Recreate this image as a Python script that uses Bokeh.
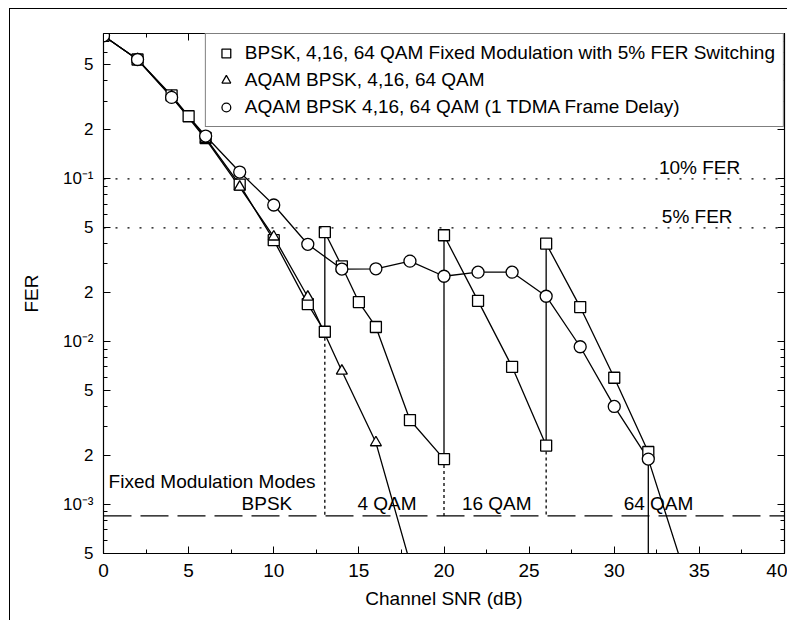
from bokeh.plotting import figure
from bokeh.models import (FixedTicker, Legend, LegendItem, LinearAxis, LogAxis,
                          Range1d, Span, CustomJSTickFormatter)
from bokeh.embed import file_html
from bokeh.resources import INLINE
from bokeh.core.properties import value

# ---------------- data ----------------
snr_fixed = [0, 2, 4, 5, 6, 8, 10, 12, 13, 13, 14, 15, 16, 18, 20, 20, 22, 24, 26, 26, 28, 30, 32, 32]
fer_fixed = [0.755, 0.54, 0.325, 0.242, 0.178, 0.092, 0.042, 0.017, 0.0115, 0.047, 0.029, 0.0175,
             0.0123, 0.0033, 0.0019, 0.045, 0.0178, 0.007, 0.0023, 0.040, 0.0163, 0.006, 0.0021, 0.0001]

snr_aqam = [0, 2, 4, 6, 8, 10, 12, 14, 16, 18]
fer_aqam = [0.755, 0.54, 0.32, 0.175, 0.089, 0.044, 0.0188, 0.0066, 0.0024, 0.00044]

snr_delay = [0, 2, 4, 6, 8, 10, 12, 14, 16, 18, 20, 22, 24, 26, 28, 30, 32, 34]
fer_delay = [0.755, 0.54, 0.316, 0.183, 0.11, 0.069, 0.0396, 0.0279, 0.028, 0.0312, 0.0252,
             0.0267, 0.0267, 0.019, 0.0093, 0.0040, 0.0019, 0.00042]

switch_snr = [13, 20, 26]
switch_fer = [0.0115, 0.0019, 0.0023]
mode_fer = 8.5e-4
fer_targets = [0.1, 0.05]
fer_target_text = ["10% FER", "5% FER"]
fer_target_x = [37.4, 36.95]

mode_names = ["BPSK", "4 QAM", "16 QAM", "64 QAM"]
mode_x = [9.6, 16.65, 23.1, 32.6]
modes_title = "Fixed Modulation Modes"

legend_labels = ["BPSK, 4,16, 64 QAM Fixed Modulation with 5% FER Switching",
                 "AQAM BPSK, 4,16, 64 QAM",
                 "AQAM BPSK 4,16, 64 QAM (1 TDMA Frame Delay)"]

x_ticks = [0, 5, 10, 15, 20, 25, 30, 35, 40]
y_labeled = [5e-4, 1e-3, 2e-3, 5e-3, 1e-2, 2e-2, 5e-2, 1e-1, 2e-1, 5e-1]
y_tick_text = ["5", "10\u207b\u00b3", "2", "5", "10\u207b\u00b2", "2", "5", "10\u207b\u00b9", "2", "5"]
y_minor = [k * 10.0 ** e for e in (-4, -3, -2, -1) for k in range(2, 10) if 5e-4 <= k * 10.0 ** e <= 0.78]

FONT = "Liberation Sans"
FS = "19px"

p = figure(width=778, height=612, y_axis_type="log", output_backend="svg", toolbar_location=None,
           x_range=Range1d(0, 40), y_range=Range1d(5e-4, 0.78),
           min_border_left=93, min_border_right=3, min_border_top=24, min_border_bottom=68)
p.styles = {"margin-left": "9px", "margin-top": "8px",
            "border-top": "1px solid black", "border-left": "1px solid black"}
p.grid.visible = False
p.outline_line_color = "black"
p.outline_line_width = 1.2
p.background_fill_color = "white"

# axes
x_minor = [v + 2.5 for v in x_ticks[:-1]]
p.xaxis.ticker = FixedTicker(ticks=x_ticks, minor_ticks=x_minor)
p.yaxis.ticker = FixedTicker(ticks=y_labeled, minor_ticks=y_minor)
p.yaxis.formatter = CustomJSTickFormatter(args=dict(vals=y_labeled, txt=y_tick_text), code="""
    let best = 0, bd = 1e9;
    for (let i = 0; i < vals.length; i++) {
        const d = Math.abs(Math.log10(vals[i]) - Math.log10(tick));
        if (d < bd) { bd = d; best = i; }
    }
    return txt[best];
""")
for ax in (p.xaxis[0], p.yaxis[0]):
    ax.major_tick_in = 7
    ax.major_tick_out = 0
    ax.minor_tick_in = 4
    ax.minor_tick_out = 0
    ax.axis_line_color = "black"
    ax.major_label_text_font = FONT
    ax.major_label_text_font_size = FS
    ax.major_label_text_color = "black"
    ax.axis_label_text_font = FONT
    ax.axis_label_text_font_size = FS
    ax.axis_label_text_font_style = "normal"
    ax.axis_label_text_color = "black"
p.yaxis.major_label_text_font_size = "17px"
p.xaxis.axis_label = "Channel SNR (dB)"
p.yaxis.axis_label = "FER"
p.xaxis.major_label_standoff = 10
p.xaxis.axis_label_standoff = 8
p.yaxis.major_label_standoff = 10
p.yaxis.axis_label_standoff = 18

blank = CustomJSTickFormatter(code="return ' '")
top = LinearAxis(ticker=FixedTicker(ticks=x_ticks, minor_ticks=x_minor), formatter=blank,
                 major_label_standoff=0, major_label_text_font_size="4px",
                 major_tick_in=7, major_tick_out=0, minor_tick_in=4, minor_tick_out=0)
right = LogAxis(ticker=FixedTicker(ticks=y_labeled, minor_ticks=y_minor), formatter=blank,
                major_label_standoff=0, major_label_text_font_size="4px",
                major_tick_in=7, major_tick_out=0, minor_tick_in=4, minor_tick_out=0)
p.add_layout(top, "above")
p.add_layout(right, "right")

# reference lines
for v in fer_targets:
    p.add_layout(Span(location=v, dimension="width", line_color="black", line_width=1.3,
                      line_dash="2 10"))
p.add_layout(Span(location=mode_fer, dimension="width", line_color="black", line_width=1.3,
                  line_dash="28 9"))
p.segment(x0=switch_snr, y0=switch_fer, x1=switch_snr, y1=[mode_fer] * len(switch_snr),
          line_color="black", line_width=1.3, line_dash="3 3")

# series
lw = 1.3
p.line(snr_fixed, fer_fixed, line_color="black", line_width=lw)
p.line(snr_aqam, fer_aqam, line_color="black", line_width=lw)
p.line(snr_delay, fer_delay, line_color="black", line_width=lw)
r_sq = p.scatter(snr_fixed, fer_fixed, marker="square", size=11, line_color="black",
                 fill_color="white", line_width=1.3)
r_tr = p.scatter(snr_aqam, fer_aqam, marker="triangle", size=11, line_color="black",
                 fill_color="white", line_width=1.3)
r_ci = p.scatter(snr_delay, fer_delay, marker="circle", size=12, line_color="black",
                 fill_color="white", line_width=1.3)

# texts
p.text(x=fer_target_x, y=fer_targets, text=fer_target_text, text_font=value(FONT),
       text_font_size=FS, text_align="right", text_baseline="middle", y_offset=-11,
       text_color="black")
p.text(x=mode_x, y=[mode_fer] * len(mode_x), text=mode_names, text_font=value(FONT),
       text_font_size=FS, text_align="center", text_baseline="middle", y_offset=-12,
       text_color="black")
p.text(x=[0.3], y=[mode_fer], text=[modes_title], text_font=value(FONT),
       text_font_size=FS, text_align="left", text_baseline="middle", y_offset=-34,
       text_color="black")

legend = Legend(items=[LegendItem(label=legend_labels[0], renderers=[r_sq]),
                       LegendItem(label=legend_labels[1], renderers=[r_tr]),
                       LegendItem(label=legend_labels[2], renderers=[r_ci])],
                location="top_right", margin=0, padding=8, spacing=5,
                glyph_width=24, glyph_height=22, label_height=22, label_standoff=7,
                label_text_font=FONT, label_text_font_size=FS, label_text_color="black",
                border_line_color="black", border_line_width=1.2, background_fill_alpha=1.0)
p.add_layout(legend)

open("out.html", "w").write(file_html(p, INLINE))
